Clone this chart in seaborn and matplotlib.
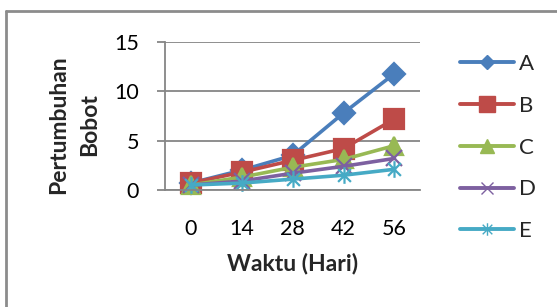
import numpy as np
import pandas as pd
import matplotlib
matplotlib.use('Agg')
import matplotlib.pyplot as plt
from matplotlib.lines import Line2D
from matplotlib.path import Path
import seaborn as sns

# data
days = [0, 14, 28, 42, 56]
series_names = ['A', 'B', 'C', 'D', 'E']
val_a = [0.7, 2.0, 3.5, 7.8, 11.8]
val_b = [0.7, 1.8, 3.0, 4.2, 7.2]
val_c = [0.5, 1.3, 2.3, 3.1, 4.5]
val_d = [0.5, 0.9, 1.7, 2.4, 3.2]
val_e = [0.5, 0.7, 1.1, 1.5, 2.1]
y_ticks = [0, 5, 10, 15]

colors = ['#4a7ebb', '#be4b48', '#98b954', '#7d60a0', '#46aac5']
star = Path([(-1, -1), (1, 1), (-1, 1), (1, -1), (0, -1.3), (0, 1.3)],
            [Path.MOVETO, Path.LINETO, Path.MOVETO, Path.LINETO, Path.MOVETO, Path.LINETO])
markers = ['D', 's', '^', 'x', star]
plot_ms = [11, 14.5, 12.5, 12, 12]
leg_ms = [7, 12, 10, 9, 9]

df = pd.DataFrame({
    'Waktu': days * 5,
    'Nilai': val_a + val_b + val_c + val_d + val_e,
    'Seri': np.repeat(series_names, len(days)),
})

sns.set_style('white')
plt.rcParams['font.family'] = ['Lato', 'DejaVu Sans']

fig = plt.figure(figsize=(5.57, 3.07), dpi=100)
W, H = 557, 307
ax = fig.add_axes([165 / W, 1 - 190 / H, 255 / W, 148 / H])

grey = '#868686'
for i, name in enumerate(series_names):
    sub = df[df['Seri'] == name]
    sns.lineplot(data=sub, x='Waktu', y='Nilai', ax=ax, color=colors[i],
                 marker=markers[i], markersize=plot_ms[i], linewidth=2.6,
                 markeredgecolor=colors[i], markerfacecolor=colors[i],
                 markeredgewidth=1.6, clip_on=False)

ax.set_xlim(-7, 63)
ax.set_ylim(0, 15)
ax.set_xticks(days)
ax.set_xticklabels([str(d) for d in days])
ax.set_yticks(y_ticks)
ax.yaxis.grid(True, color=grey, linewidth=1.3)
ax.set_axisbelow(True)
for s in ['top', 'right']:
    ax.spines[s].set_visible(False)
ax.spines['left'].set_color(grey)
ax.spines['left'].set_linewidth(1.3)
ax.spines['bottom'].set_color(grey)
ax.spines['bottom'].set_linewidth(1.3)
ax.tick_params(axis='y', length=5.8, width=1.3, color=grey, pad=13,
               labelsize=15.5, labelcolor='#000000', left=True)
ax.tick_params(axis='x', length=0, pad=21, labelsize=15.5, labelcolor='#000000')

ax.set_xlabel('Waktu (Hari)', fontsize=16.5, fontweight='bold', labelpad=10)
ax.set_ylabel('')
fig.text(74 / W, 1 - 125 / H, 'Pertumbuhan\nBobot', rotation=90, ha='center',
         va='center', multialignment='center', fontsize=16.5, fontweight='bold',
         linespacing=1.55)

handles = [Line2D([], [], color=colors[i], marker=markers[i], markersize=leg_ms[i],
                  markeredgecolor=colors[i], markeredgewidth=1.0, linewidth=2.8)
           for i in range(5)]
fig.legend(handles, series_names, loc='upper left',
           bbox_to_anchor=(460 / W, 1 - 54 / H), frameon=False, fontsize=16,
           handlelength=2.45, handletextpad=0.2, labelspacing=0.98,
           borderpad=0, borderaxespad=0)

# chart area border (top and left edges visible)
fig.add_artist(Line2D([6 / W, 6 / W], [0, 1 - 11 / H], color='#8c8c8c', linewidth=2,
                      transform=fig.transFigure))
fig.add_artist(Line2D([6 / W, 1], [1 - 11 / H, 1 - 11 / H], color='#8c8c8c', linewidth=2,
                      transform=fig.transFigure))

fig.savefig('out.png', dpi=100)
